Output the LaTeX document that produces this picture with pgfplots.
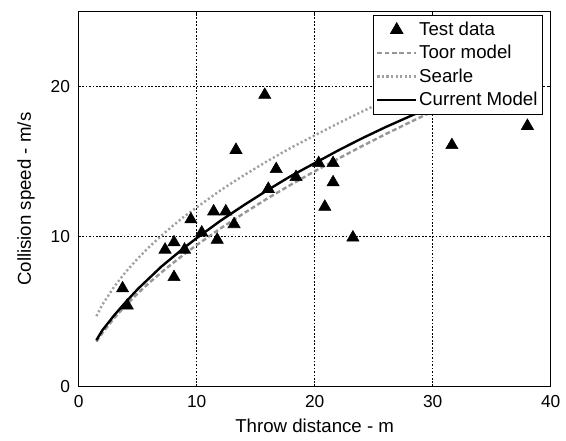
\documentclass[border=0pt]{standalone}
\usepackage{fontspec}
\setmainfont{Liberation Sans}
\usepackage{pgfplots}
\pgfplotsset{compat=1.18}
\definecolor{toorgray}{RGB}{150,150,150}
\definecolor{searlegray}{RGB}{160,160,160}

\pgfplotsset{
  seglegend/.style={legend image code/.code={\draw[##1] (0pt,0pt) -- (29pt,0pt);}},
  dotlegend/.style={legend image code/.code={\draw[##1] plot coordinates {(14.5pt,0pt)};}},
}

% measured test data (throw distance m, collision speed m/s)
\pgfplotstableread{
x y
3.72 6.55
4.12 5.40
7.32 9.13
8.08 9.62
8.08 7.30
8.97 9.13
9.51 11.15
10.43 10.27
11.44 11.68
11.74 9.79
12.47 11.68
13.17 10.83
13.33 15.78
15.77 19.45
16.07 13.18
16.74 14.50
18.42 13.97
20.34 14.90
21.56 14.90
21.56 13.62
20.86 11.99
23.24 9.94
31.63 16.10
38.03 17.38
}\testdata

\begin{document}
\begin{tikzpicture}
\begin{axis}[
  scale only axis,
  width=354pt, height=281.25pt,
  xmin=0, xmax=40, ymin=0, ymax=25,
  xtick={0,10,20,30,40},
  ytick={0,10,20},
  tick align=inside,
  major tick length=2pt,
  axis line style={line width=0.8pt},
  every tick/.style={black, line width=0.6pt},
  grid=major,
  grid style={black, line width=0.6pt, dash pattern=on 1.3pt off 1.3pt},
  tick label style={font=\fontsize{13}{15}\selectfont},
  xticklabel style={yshift=-3pt},
  yticklabel style={xshift=-3pt},
  /pgf/number format/assume math mode=true,
  xlabel={Throw distance - m},
  ylabel={Collision speed - m/s},
  label style={font=\fontsize{14}{16}\selectfont},
  xlabel style={yshift=-2pt},
  ylabel style={yshift=5pt},
  legend style={at={(0.983,0.991)}, anchor=north east,
    draw=black, line width=0.7pt, fill=white,
    font=\fontsize{14}{16}\selectfont,
    nodes={inner sep=1.5pt}, row sep=2.8pt,
    inner xsep=2pt, inner ysep=3.5pt},
  legend cell align=left,
  seglegend,
]
\addplot[only marks, mark=triangle*, mark size=5.3pt, black, dotlegend]
  table[x=x, y=y] {\testdata};
\addlegendentry{Test data}

\addplot[toorgray, line width=1.8pt, dash pattern=on 3.5pt off 2pt]
  coordinates {(1.5,3.0)(2,3.57)(3,4.56)(4,5.43)(5,6.21)(6,6.94)(7,7.61)
  (8,8.25)(9,8.86)(10,9.44)(12,10.54)(14,11.56)(16,12.55)(18,13.47)
  (20,14.36)(22,15.2)(24,16.03)(26,16.83)(28,17.6)(30,18.35)};
\addlegendentry{Toor model}

\addplot[searlegray, line width=1.8pt, dash pattern=on 1.6pt off 1.8pt]
  coordinates {(1.5,4.70)(2,5.45)(3,6.66)(4,7.66)(5,8.54)(6,9.33)(7,10.06)
  (8,10.74)(9,11.38)(10,11.95)(12,13.08)(14,14.09)(16,15.04)(18,15.93)
  (20,16.75)(22,17.56)(24,18.33)(26,19.07)(28,19.77)(30,20.4)};
\addlegendentry{Searle}

\addplot[black, line width=1.8pt]
  coordinates {(1.5,3.1)(2,3.75)(3,4.75)(4,5.65)(5,6.5)(6,7.25)(7,8.0)
  (8,8.65)(9,9.3)(10,9.9)(12,11.05)(14,12.1)(16,13.1)(18,14.05)(20,14.9)
  (22,15.75)(24,16.55)(26,17.3)(28,18.0)(30,18.7)};
\addlegendentry{Current Model}
\end{axis}
\pgfresetboundingbox
\useasboundingbox (-59pt,-40.7pt) rectangle (365.5pt,290pt);
\end{tikzpicture}
\end{document}
